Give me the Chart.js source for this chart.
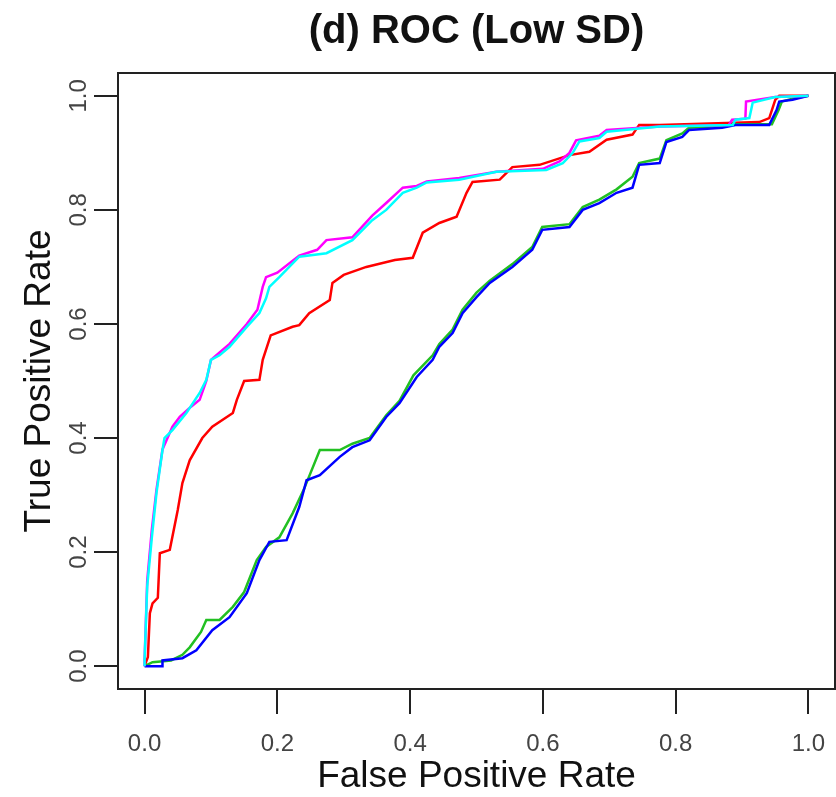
<!DOCTYPE html>
<html>
<head>
<meta charset="utf-8">
<script src="https://cdn.jsdelivr.net/npm/chart.js@4"></script>
<style>
  html, body { margin: 0; padding: 0; background: #ffffff; }
  #wrap { width: 836px; height: 797px; }
</style>
</head>
<body>
<div id="wrap"><canvas id="c" width="836" height="797"></canvas></div>
<script>
const chartTitle = '(d) ROC (Low SD)';
const xAxisTitle = 'False Positive Rate';
const yAxisTitle = 'True Positive Rate';
const xTicks = [0, 0.2, 0.4, 0.6, 0.8, 1.0];
const xTickLabels = ['0.0', '0.2', '0.4', '0.6', '0.8', '1.0'];
const yTicks = [0, 0.2, 0.4, 0.6, 0.8, 1.0];
const yTickLabels = ['0.0', '0.2', '0.4', '0.6', '0.8', '1.0'];

const cyanX = [0, 0, 0.004, 0.011, 0.018, 0.027, 0.03, 0.042, 0.063, 0.083, 0.093, 0.1, 0.113, 0.128, 0.154, 0.173, 0.183, 0.188, 0.203, 0.233, 0.274, 0.313, 0.343, 0.364, 0.389, 0.41, 0.425, 0.474, 0.53, 0.605, 0.63, 0.645, 0.655, 0.685, 0.696, 0.776, 0.886, 0.89, 0.911, 0.916, 0.95, 1.0];
const cyanY = [0, 0.01, 0.14, 0.226, 0.304, 0.379, 0.40, 0.414, 0.444, 0.479, 0.502, 0.537, 0.545, 0.56, 0.595, 0.619, 0.645, 0.665, 0.682, 0.718, 0.724, 0.747, 0.782, 0.80, 0.83, 0.839, 0.848, 0.853, 0.867, 0.87, 0.882, 0.90, 0.92, 0.926, 0.937, 0.946, 0.949, 0.958, 0.961, 0.988, 0.998, 1.0];

const magentaX = [0, 0, 0.004, 0.011, 0.018, 0.027, 0.042, 0.053, 0.07, 0.083, 0.093, 0.1, 0.113, 0.128, 0.154, 0.17, 0.178, 0.183, 0.2, 0.233, 0.26, 0.274, 0.313, 0.343, 0.364, 0.389, 0.41, 0.425, 0.474, 0.53, 0.6, 0.625, 0.64, 0.65, 0.685, 0.696, 0.776, 0.88, 0.885, 0.905, 0.906, 0.95, 1.0];
const magentaY = [0, 0.01, 0.15, 0.24, 0.31, 0.38, 0.42, 0.437, 0.455, 0.467, 0.50, 0.537, 0.55, 0.565, 0.60, 0.625, 0.665, 0.682, 0.69, 0.72, 0.73, 0.747, 0.752, 0.79, 0.812, 0.839, 0.842, 0.85, 0.856, 0.867, 0.872, 0.885, 0.90, 0.922, 0.93, 0.94, 0.946, 0.949, 0.958, 0.96, 0.99, 0.998, 1.0];

const redX = [0, 0.005, 0.008, 0.012, 0.02, 0.023, 0.038, 0.05, 0.057, 0.068, 0.087, 0.102, 0.133, 0.139, 0.15, 0.173, 0.178, 0.19, 0.223, 0.233, 0.248, 0.279, 0.283, 0.3, 0.334, 0.377, 0.404, 0.419, 0.444, 0.47, 0.485, 0.494, 0.535, 0.554, 0.595, 0.64, 0.67, 0.696, 0.735, 0.745, 0.776, 0.926, 0.941, 0.95, 0.956, 1.0];
const redY = [0, 0.016, 0.093, 0.11, 0.12, 0.198, 0.204, 0.274, 0.321, 0.361, 0.40, 0.42, 0.444, 0.467, 0.50, 0.502, 0.537, 0.58, 0.595, 0.598, 0.619, 0.642, 0.672, 0.686, 0.70, 0.712, 0.716, 0.76, 0.777, 0.788, 0.83, 0.849, 0.853, 0.875, 0.879, 0.896, 0.902, 0.923, 0.932, 0.949, 0.949, 0.954, 0.961, 0.993, 1.0, 1.0];

const greenX = [0, 0.012, 0.04, 0.057, 0.068, 0.085, 0.093, 0.113, 0.133, 0.15, 0.169, 0.183, 0.203, 0.223, 0.24, 0.264, 0.294, 0.313, 0.339, 0.364, 0.384, 0.405, 0.434, 0.444, 0.464, 0.479, 0.5, 0.52, 0.554, 0.584, 0.599, 0.64, 0.66, 0.685, 0.711, 0.735, 0.745, 0.776, 0.786, 0.81, 0.82, 0.87, 0.89, 0.945, 0.955, 0.96, 0.976, 1.0];
const greenY = [0, 0.007, 0.01, 0.02, 0.033, 0.06, 0.081, 0.081, 0.104, 0.13, 0.186, 0.209, 0.226, 0.268, 0.31, 0.379, 0.379, 0.39, 0.40, 0.44, 0.465, 0.51, 0.545, 0.565, 0.59, 0.625, 0.655, 0.676, 0.705, 0.735, 0.77, 0.775, 0.805, 0.818, 0.836, 0.858, 0.882, 0.89, 0.922, 0.934, 0.944, 0.947, 0.95, 0.95, 0.975, 0.99, 0.995, 1.0];

const blueX = [0, 0.027, 0.027, 0.057, 0.078, 0.102, 0.128, 0.154, 0.173, 0.188, 0.214, 0.233, 0.244, 0.264, 0.294, 0.313, 0.339, 0.364, 0.384, 0.41, 0.434, 0.444, 0.464, 0.479, 0.5, 0.52, 0.554, 0.584, 0.599, 0.64, 0.66, 0.685, 0.711, 0.735, 0.745, 0.776, 0.786, 0.81, 0.82, 0.87, 0.89, 0.941, 0.952, 0.956, 0.976, 1.0];
const blueY = [0, 0, 0.01, 0.014, 0.028, 0.063, 0.086, 0.128, 0.186, 0.218, 0.221, 0.279, 0.326, 0.335, 0.367, 0.384, 0.396, 0.437, 0.461, 0.507, 0.537, 0.56, 0.584, 0.619, 0.647, 0.672, 0.70, 0.73, 0.765, 0.77, 0.80, 0.812, 0.83, 0.839, 0.879, 0.882, 0.919, 0.928, 0.94, 0.944, 0.949, 0.949, 0.975, 0.99, 0.993, 1.0];

function pts(xs, ys) { return xs.map((x, i) => ({ x: x, y: ys[i] })); }

const FONT = '"Liberation Sans", Arial, Helvetica, sans-serif';

function series(label, xs, ys, color) {
  return { label: label, data: pts(xs, ys), borderColor: color, backgroundColor: color,
    borderWidth: 2.5, pointRadius: 0, showLine: true, tension: 0, fill: false };
}

const titlePlugin = {
  id: 'mainTitle',
  afterDraw(chart) {
    const ctx = chart.ctx, a = chart.chartArea;
    ctx.save();
    ctx.font = 'bold 40px ' + FONT;
    ctx.fillStyle = '#111';
    ctx.textAlign = 'center';
    ctx.textBaseline = 'alphabetic';
    ctx.fillText(chartTitle, (a.left + a.right) / 2, 43);
    ctx.restore();
  }
};
const boxPlugin = {
  id: 'box',
  afterDatasetsDraw(chart) {
    const ctx = chart.ctx, a = chart.chartArea;
    ctx.save();
    ctx.strokeStyle = '#222';
    ctx.lineWidth = 2;
    ctx.strokeRect(a.left, a.top, a.right - a.left, a.bottom - a.top);
    ctx.restore();
  }
};

new Chart(document.getElementById('c'), {
  type: 'scatter',
  data: {
    datasets: [
      series('cyan', cyanX, cyanY, '#00FFFF'),
      series('magenta', magentaX, magentaY, '#FF00FF'),
      series('blue', blueX, blueY, '#0000FF'),
      series('green', greenX, greenY, '#22C022'),
      series('red', redX, redY, '#FF0000')
    ]
  },
  options: {
    responsive: false,
    animation: false,
    layout: { padding: { top: 73, right: 1, left: 0, bottom: 0 } },
    plugins: { legend: { display: false }, tooltip: { enabled: false }, title: { display: false } },
    scales: {
      x: {
        type: 'linear', min: -0.04, max: 1.04,
        afterBuildTicks: (s) => { s.ticks = xTicks.map(v => ({ value: v })); },
        afterFit: (s) => { s.height = 108; s.paddingLeft = 0; s.paddingRight = 0; },
        grid: { drawOnChartArea: false, drawTicks: true, tickLength: 25, color: '#222', tickColor: '#222', tickWidth: 2, lineWidth: 2 },
        border: { display: true, color: '#222', width: 2 },
        ticks: { font: { family: FONT, size: 24 }, color: '#444', padding: 16, maxRotation: 0, minRotation: 0,
          callback: (v, i) => xTickLabels[i] },
        title: { display: true, text: xAxisTitle, font: { family: FONT, size: 37, lineHeight: 1.1 }, color: '#111', padding: { top: 0, bottom: 0 } }
      },
      y: {
        type: 'linear', min: -0.04, max: 1.04,
        afterBuildTicks: (s) => { s.ticks = yTicks.map(v => ({ value: v })); },
        afterFit: (s) => { s.width = 118; s.paddingTop = 0; s.paddingBottom = 0; },
        grid: { drawOnChartArea: false, drawTicks: true, tickLength: 24, color: '#222', tickColor: '#222', tickWidth: 2, lineWidth: 2 },
        border: { display: true, color: '#222', width: 2 },
        ticks: { font: { family: FONT, size: 24 }, color: '#444', padding: -2, minRotation: 90, maxRotation: 90, crossAlign: 'center',
          callback: (v, i) => yTickLabels[i] },
        title: { display: true, text: yAxisTitle, font: { family: FONT, size: 37, lineHeight: 1.15 }, color: '#111', padding: { top: 19, bottom: 0 } }
      }
    }
  },
  plugins: [titlePlugin, boxPlugin]
});
</script>
</body>
</html>
